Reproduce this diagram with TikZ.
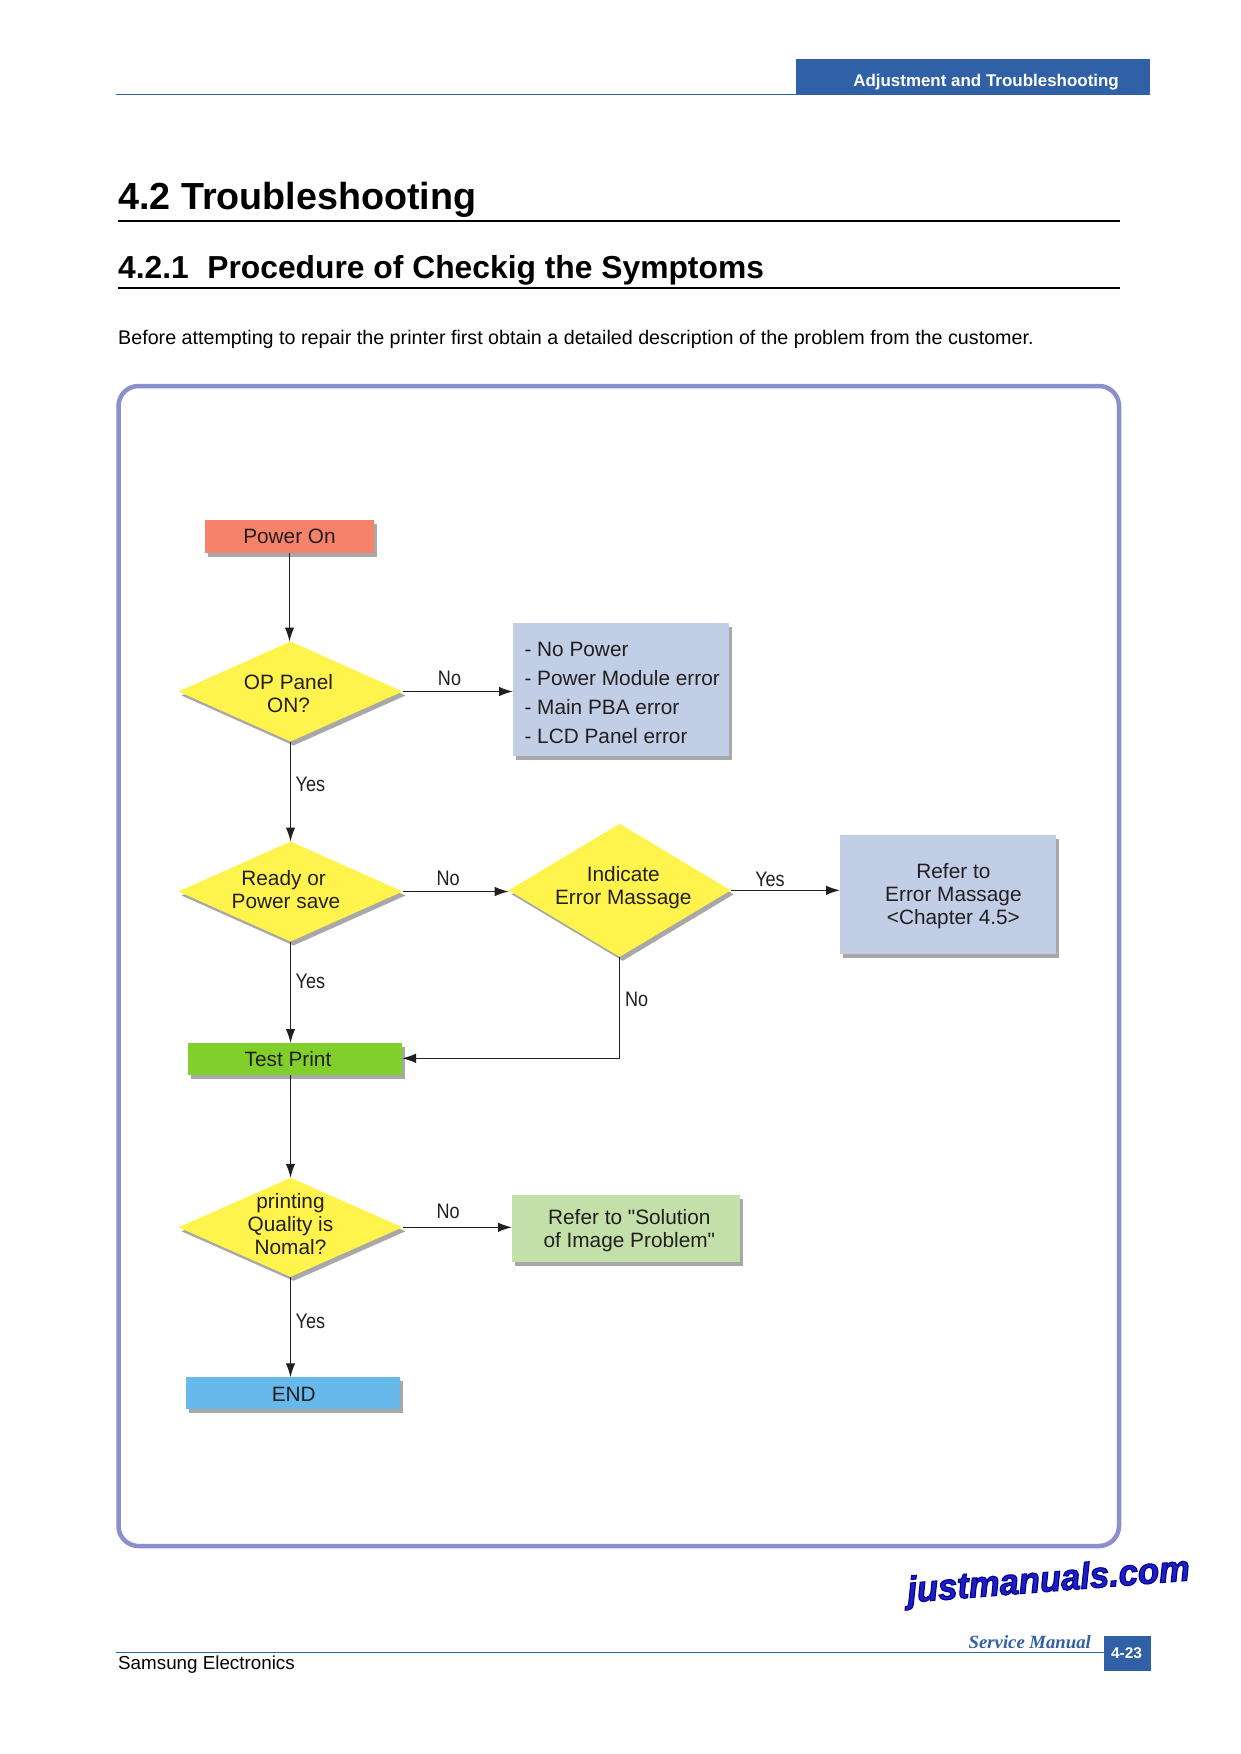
\documentclass[tikz,border=0pt]{standalone}
\usepackage{fontspec}
\setmainfont{Liberation Sans}
\newfontfamily\bodyf{Liberation Sans}
\newfontfamily\narrowf[FakeStretch=0.86]{Liberation Sans}
\newfontfamily\srvf{Liberation Serif}
\newfontfamily\wmf[BoldItalicFeatures={FakeBold=3,FakeStretch=0.95}]{Liberation Sans}
\usetikzlibrary{arrows.meta,shapes.geometric,shadows}
\definecolor{ink}{HTML}{231F20}
\definecolor{bandblue}{HTML}{3060A5}
\definecolor{framec}{HTML}{8A8FCF}
\definecolor{salmon}{HTML}{F6826A}
\definecolor{diay}{HTML}{FFF34C}
\definecolor{paleblue}{HTML}{C1CEE6}
\definecolor{palegreen}{HTML}{C3E0A8}
\definecolor{testgreen}{HTML}{80CF2A}
\definecolor{endblue}{HTML}{66B9EA}
\definecolor{shadowc}{HTML}{A8A8A8}
\newcommand{\fs}[1]{\fontsize{#1}{#1}\selectfont}
\tikzset{
  shaded box/.style={draw=none,inner sep=0pt,outer sep=0pt,
    copy shadow={shadow xshift=3pt,shadow yshift=-4pt,fill=shadowc,draw=none}},
  rectbox/.style={shaded box,rectangle,anchor=north west},
  band/.style={draw=none,inner sep=0pt,outer sep=0pt,rectangle,anchor=north west,fill=bandblue},
  dia/.style={shaded box,diamond,fill=diay,aspect=1},
  boxtext/.style={inner sep=0pt,anchor=base,text=ink,align=center,
    font=\bodyf\fs{20.8},execute at begin node={\setlength{\baselineskip}{23pt}}},
  branchlabel/.style={inner sep=0pt,text=ink,font=\narrowf\fs{21}},
  conn/.style={draw=ink,line width=1.3pt,-{Latex[length=14pt,width=9.5pt]}},
  plainrule/.style={draw=black,line width=2pt}
}
\begin{document}
\begin{tikzpicture}[x=1pt,y=-1pt]
\useasboundingbox (0,0) rectangle (1240,1754);
\fill[white] (0,0) rectangle (1240,1754);
% header
\node[band,minimum width=354pt,minimum height=36pt] (hdr) at (796,59) {};
\coordinate (hl) at (116,94.5);
\draw[bandblue,line width=1.2pt] (hl) -- (hl -| hdr.west);
\node[inner sep=0pt,anchor=base east,text=white,font=\bfseries\fs{16.95}] (hdrt) at (1119,86) {Adjustment and Troubleshooting};
% titles
\node[inner sep=0pt,anchor=base west,text=black,font=\bfseries\fs{37.7}] (t1) at (118,209.5) {4.2 Troubleshooting};
\coordinate (r1a) at (118,220.5); \coordinate (r1b) at (1120,220.5);
\draw[plainrule] (r1a) -- (r1b);
\node[inner sep=0pt,anchor=base west,text=black,font=\bfseries\fs{31.8}] (t2) at (118,278.5) {4.2.1\hspace{0.58em}Procedure of Checkig the Symptoms};
\coordinate (r2a) at (118,287.5); \coordinate (r2b) at (1120,287.5);
\draw[plainrule] (r2a) -- (r2b);
\node[inner sep=0pt,anchor=base west,text=black,font=\fs{19.7}] (para) at (118,344) {Before attempting to repair the printer first obtain a detailed description of the problem from the customer.};
% frame
\draw[framec,line width=4.5pt,rounded corners=20pt] (118.5,386) rectangle (1119,1546);
% shapes
\node[rectbox,fill=salmon,minimum width=169pt,minimum height=33pt] (pon) at (204.5,520) {};
\node[dia,minimum width=224pt,minimum height=100pt] (op) at (290.5,691.5) {};
\node[rectbox,fill=paleblue,minimum width=216pt,minimum height=133pt] (nop) at (513,623) {};
\node[dia,minimum width=224pt,minimum height=100pt] (rdy) at (290.5,891.5) {};
\node[dia,minimum width=222pt,minimum height=133pt] (ind) at (619.7,890.3) {};
\node[rectbox,fill=paleblue,minimum width=216pt,minimum height=119pt] (ref) at (840,835.3) {};
\node[rectbox,fill=testgreen,minimum width=214pt,minimum height=32pt] (tst) at (188,1043) {};
\node[dia,minimum width=224pt,minimum height=99pt] (qual) at (290.5,1227.3) {};
\node[rectbox,fill=palegreen,minimum width=228pt,minimum height=67pt] (sol) at (512,1195) {};
\node[rectbox,fill=endblue,minimum width=214pt,minimum height=32pt] (fin) at (186,1377.3) {};
% box text
\node[boxtext] (pont) at (289.5,543) {Power On};
\node[boxtext] (opt) at (288.5,712) {OP Panel\\ON?};
\node[boxtext] (rdyt) at (286,908) {Ready or\hspace{4.8pt}\mbox{}\\Power save};
\node[boxtext] (indt) at (623.3,904) {Indicate\\Error Massage};
\node[boxtext] (reft) at (953.4,924) {Refer to\\Error Massage\\<Chapter 4.5>};
\node[boxtext] (tstt) at (288,1066) {Test Print};
\node[boxtext] (qualt) at (290.5,1254) {printing\\Quality is\\Nomal?};
\node[boxtext] (solt) at (629.3,1247.3) {Refer to "Solution\\of Image Problem"};
\node[boxtext] (fint) at (293.8,1401.2) {END};
\node[boxtext,anchor=base west,align=left,execute at begin node={\setlength{\baselineskip}{29pt}}] (nopt) at (524.3,743) {- No Power\\- Power Module error\\- Main PBA error\\- LCD Panel error};
% connectors
\draw[conn] ([xshift=-1pt]pon.south -| op.north) -- ([xshift=-1pt]op.north);
\draw[conn] (op.south) -- (rdy.north);
\draw[conn] (rdy.south) -- (rdy.south |- tst.north);
\draw[conn] (tst.south -| qual.north) -- (qual.north);
\draw[conn] (qual.south) -- (qual.south |- fin.north);
\draw[conn] (op.east) -- (op.east -| nop.west);
\draw[conn] (rdy.east) -- (rdy.east -| ind.west);
\draw[conn] (ind.east) -- (ind.east -| ref.west);
\draw[conn] (qual.east) -- (qual.east -| sol.west);
\coordinate (ret) at (619.7,1058.3);
\draw[conn] (ind.south) -- (ret) -- (ret -| tst.east);
% branch labels
\node[branchlabel,anchor=base] (l1) at (449.5,685) {No};
\node[branchlabel,anchor=base west] (l2) at (295.5,791.7) {Yes};
\node[branchlabel,anchor=base] (l3) at (448.2,885.7) {No};
\node[branchlabel,anchor=base west] (l4) at (295.5,988) {Yes};
\node[branchlabel,anchor=base] (l5) at (770,886.7) {Yes};
\node[branchlabel,anchor=base west] (l6) at (625,1006.7) {No};
\node[branchlabel,anchor=base] (l7) at (448.2,1218) {No};
\node[branchlabel,anchor=base west] (l8) at (295.5,1328) {Yes};
% footer
\coordinate (fl) at (116,1652.3);
\node[band,minimum width=47.5pt,minimum height=35.5pt] (pg) at (1103.6,1635.7) {};
\draw[bandblue,line width=1.2pt] (fl) -- (fl -| pg.west);
\node[inner sep=0pt,anchor=base,text=white,font=\bfseries\fs{15.5}] (pgt) at (1126.5,1658.2) {4-23};
\node[inner sep=0pt,anchor=base west,text=black,font=\fs{18.8}] (sam) at (118,1669) {Samsung Electronics};
\node[inner sep=0pt,anchor=base east,text=bandblue,font=\srvf\bfseries\itshape\fs{18.7}] (srv) at (1091,1648.7) {Service Manual};
\node[inner sep=0pt,anchor=base west,rotate=4.5,font=\wmf\bfseries\itshape\fs{36.5}] (wm) at (908,1602.5) {\special{pdf:bcolor [0.12 0.12 0.75] [0 0 0.6]}justmanuals.com\special{pdf:ecolor}};
\end{tikzpicture}
\end{document}
